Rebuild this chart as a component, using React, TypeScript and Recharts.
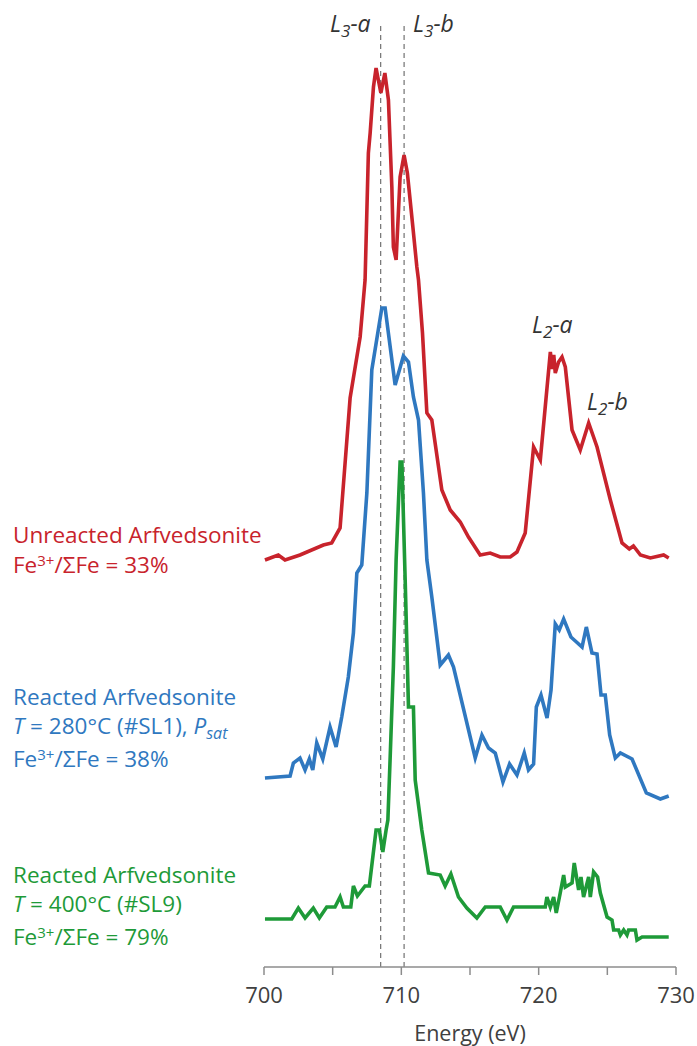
import { LineChart, Line, XAxis, YAxis, ReferenceLine } from 'recharts'

// energies (eV) and stacked intensities (arb. units, offset per spectrum)
const redEnergy = [700.07, 701.04, 701.53, 702.62, 704.32, 704.93, 705.54, 706.27, 707.0, 707.36, 707.6, 707.73, 707.97, 708.16, 708.51, 708.8, 709.06, 709.31, 709.42, 709.62, 709.91, 710.2, 710.44, 710.84, 711.13, 711.25, 711.54, 711.86, 712.22, 712.95, 713.56, 714.29, 714.89, 715.74, 716.47, 717.2, 717.93, 718.42, 719.02, 719.63, 720.12, 720.85, 721.0, 721.1, 721.21, 721.45, 721.7, 721.94, 722.43, 723.03, 723.64, 724.25, 725.22, 726.07, 726.6, 726.9, 727.41, 728.13, 729.1, 729.47]
const redSignal = [407, 412, 407, 412, 422, 424, 439, 569, 630, 687, 814, 834, 880, 899, 874, 894, 867, 780, 720, 707, 790, 812, 794, 740, 700, 687, 634, 554, 547, 477, 457, 445, 430, 412, 414, 410, 410, 415, 434, 520, 507, 615, 598, 612, 594, 605, 610, 600, 537, 517, 544, 520, 467, 424, 418, 421, 412, 409, 412, 409]

const blueEnergy = [700.07, 701.9, 702.14, 702.62, 702.99, 703.3, 703.55, 703.84, 704.28, 704.81, 705.25, 705.66, 706.14, 706.51, 706.76, 707.12, 707.49, 707.85, 708.58, 708.82, 709.55, 710.15, 710.52, 710.88, 711.25, 711.61, 711.86, 712.22, 712.83, 713.43, 713.8, 715.38, 715.87, 716.35, 716.84, 717.4, 717.88, 718.42, 718.95, 719.26, 719.63, 719.83, 720.17, 720.61, 720.9, 721.21, 721.5, 721.82, 722.35, 722.67, 723.16, 723.47, 723.88, 724.25, 724.54, 724.85, 725.17, 725.58, 725.95, 726.8, 727.84, 728.86, 729.47]
const blueSignal = [189, 191, 204, 209, 197, 208, 197, 224, 208, 240, 220, 250, 290, 334, 394, 402, 474, 597, 659, 659, 582, 611, 605, 570, 547, 474, 407, 370, 302, 312, 300, 209, 232, 219, 214, 185, 203, 192, 214, 197, 203, 260, 272, 249, 277, 343, 337, 348, 330, 326, 320, 340, 314, 313, 272, 272, 232, 209, 214, 208, 174, 168, 171]

const greenEnergy = [700.07, 702.02, 702.5, 702.99, 703.59, 704.03, 704.57, 705.17, 705.54, 705.78, 706.32, 706.51, 706.8, 707.36, 707.67, 708.16, 708.4, 708.65, 708.89, 709.02, 709.18, 709.42, 709.62, 709.91, 710.04, 710.28, 710.52, 710.88, 711.01, 711.49, 711.98, 712.83, 713.19, 713.61, 714.16, 714.77, 715.5, 716.11, 717.2, 717.69, 718.17, 720.48, 720.6, 720.85, 721.09, 721.28, 721.57, 721.82, 721.94, 722.43, 722.59, 722.91, 723.08, 723.27, 723.64, 723.76, 724.0, 724.29, 724.49, 724.98, 725.34, 725.46, 725.82, 725.95, 726.19, 726.43, 726.55, 727.04, 727.16, 727.53, 729.47]
const greenSignal = [48, 48, 59, 49, 59, 49, 60, 60, 70, 60, 60, 81, 71, 81, 81, 137, 137, 115, 137, 147, 207, 300, 407, 505, 505, 387, 260, 260, 187, 137, 94, 92, 81, 93, 70, 59, 49, 60, 60, 47, 60, 60, 70, 60, 70, 54, 74, 92, 80, 84, 104, 77, 90, 70, 90, 70, 95, 90, 74, 50, 47, 37, 37, 32, 37, 32, 37, 37, 27, 30, 30]

const energyTicks = [700, 705, 710, 715, 720, 725, 730]
const peakLines = [708.5, 710.2]

const toPoints = (xs: number[], ys: number[]) => xs.map((x, i) => ({ x, y: ys[i] }))

const RED = '#C8232C'
const BLUE = '#2F78C0'
const GREEN = '#1E9A38'
const FONT = '"Open Sans", sans-serif'
const TXT = 22.5

const series = [
  { key: 'red', color: RED, data: toPoints(redEnergy, redSignal) },
  { key: 'blue', color: BLUE, data: toPoints(blueEnergy, blueSignal) },
  { key: 'green', color: GREEN, data: toPoints(greenEnergy, greenSignal) },
]

function PeakLabel({ x, y, sub, tail }: { x: number; y: number; sub: string; tail: string }) {
  return (
    <text x={x} y={y} fontSize={23} fontStyle="italic" fill="#333" fontFamily={FONT}>
      L
      <tspan fontSize={17} dy={5}>{sub}</tspan>
      <tspan dy={-5}>-{tail}</tspan>
    </text>
  )
}

function FeLine({ y, color, pct }: { y: number; color: string; pct: string }) {
  return (
    <text x={13} y={y} fill={color} fontSize={TXT} fontFamily={FONT}>
      Fe
      <tspan fontSize={15} dy={-7}>3+</tspan>
      <tspan dy={7}>/ΣFe = {pct}</tspan>
    </text>
  )
}

export default function App() {
  return (
    <div style={{ position: 'absolute', left: 0, top: 0, width: 697, height: 1046, background: '#fff' }}>
      <LineChart width={697} height={1046} margin={{ top: 25, right: 21, left: 264, bottom: 0 }}>
        <XAxis
          dataKey="x"
          type="number"
          domain={[700, 730]}
          ticks={energyTicks}
          tickFormatter={(v: number) => (v % 10 === 0 ? String(v) : '')}
          height={79}
          tickSize={8}
          tickMargin={12}
          stroke="#8c8c8c"
          strokeWidth={1.5}
          tick={{ fill: '#404040', fontSize: 22, fontFamily: FONT }}
          allowDataOverflow
          label={{ value: 'Energy (eV)', position: 'insideBottom', offset: 5, fill: '#404040', fontSize: 21.5, fontFamily: FONT }}
        />
        <YAxis hide type="number" domain={[0, 942]} />
        {peakLines.map((e) => (
          <ReferenceLine key={e} x={e} stroke="#555" strokeDasharray="5 4" strokeWidth={1} />
        ))}
        {series.map((s) => (
          <Line
            key={s.key}
            data={s.data}
            dataKey="y"
            type="linear"
            stroke={s.color}
            strokeWidth={3.6}
            dot={false}
            activeDot={false}
            isAnimationActive={false}
          />
        ))}
      </LineChart>
      <svg width={697} height={1046} style={{ position: 'absolute', left: 0, top: 0, pointerEvents: 'none' }}>
        <PeakLabel x={330} y={32} sub="3" tail="a" />
        <PeakLabel x={413} y={32} sub="3" tail="b" />
        <PeakLabel x={532} y={333} sub="2" tail="a" />
        <PeakLabel x={587} y={410} sub="2" tail="b" />

        <text x={13} y={543} fill={RED} fontSize={TXT} fontFamily={FONT}>Unreacted Arfvedsonite</text>
        <FeLine y={573} color={RED} pct="33%" />

        <text x={13} y={705} fill={BLUE} fontSize={TXT} fontFamily={FONT}>Reacted Arfvedsonite</text>
        <text x={13} y={734} fill={BLUE} fontSize={TXT} fontFamily={FONT}>
          <tspan fontStyle="italic">T</tspan> = 280°C (#SL1), <tspan fontStyle="italic">P</tspan>
          <tspan fontStyle="italic" fontSize={16} dy={5}>sat</tspan>
        </text>
        <FeLine y={767} color={BLUE} pct="38%" />

        <text x={13} y={883} fill={GREEN} fontSize={TXT} fontFamily={FONT}>Reacted Arfvedsonite</text>
        <text x={13} y={912} fill={GREEN} fontSize={TXT} fontFamily={FONT}>
          <tspan fontStyle="italic">T</tspan> = 400°C (#SL9)
        </text>
        <FeLine y={945} color={GREEN} pct="79%" />
      </svg>
    </div>
  )
}
